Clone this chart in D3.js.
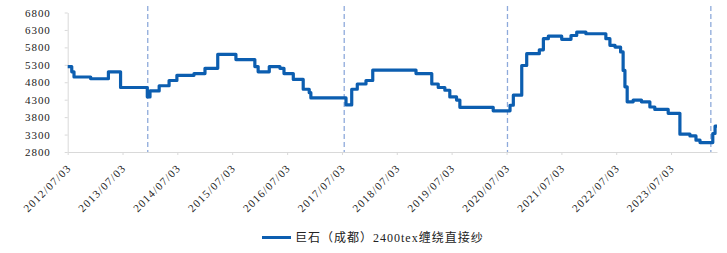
<!DOCTYPE html>
<html>
<head>
<meta charset="utf-8">
<title>巨石（成都）2400tex缠绕直接纱</title>
<script src="https://cdn.jsdelivr.net/npm/d3@7"></script>
<style>
    body { margin: 0; background: #fff; }
    .axis text { font-family: "Liberation Serif", "Times New Roman", serif; fill: #222; }
</style>
</head>
<body>
<div id="chart"></div>
<script>

// price series (yuan/ton), step changes
const dates = [
    "2012-07-03", "2012-07-30", "2012-08-14", "2012-12-03", "2013-03-31", "2013-06-20",
    "2013-12-15", "2014-01-02", "2014-03-04", "2014-05-09", "2014-06-30", "2014-10-22",
    "2015-01-03", "2015-03-29", "2015-07-28", "2015-12-01", "2015-12-23", "2016-03-06",
    "2016-05-16", "2016-06-12", "2016-08-13", "2016-10-18", "2016-11-27", "2016-12-08",
    "2017-07-30", "2017-09-06", "2017-10-13", "2017-12-10", "2018-01-24", "2018-11-08",
    "2019-02-21", "2019-04-05", "2019-05-19", "2019-06-21", "2019-08-05", "2019-08-27",
    "2020-04-05", "2020-07-26", "2020-08-17", "2020-10-12", "2020-11-14", "2021-02-06",
    "2021-03-05", "2021-04-07", "2021-07-05", "2021-09-05", "2021-10-13", "2021-12-13",
    "2022-04-25", "2022-05-22", "2022-06-25", "2022-08-01", "2022-08-18", "2022-08-30",
    "2022-09-14", "2022-10-24", "2022-12-18", "2023-02-12", "2023-03-17", "2023-06-14",
    "2023-08-31", "2023-11-06", "2023-12-16", "2024-01-12", "2024-04-06", "2024-04-21",
    "2024-05-04"
];
const prices = [
    5250, 5100, 4950, 4900, 5100, 4650,
    4380, 4550, 4700, 4850, 5000, 5050,
    5200, 5600, 5450, 5250, 5100, 5250,
    5200, 5050, 4880, 4600, 4500, 4350,
    4150, 4600, 4750, 4850, 5150, 5050,
    4750, 4650, 4570, 4380, 4290, 4080,
    3980, 4140, 4430, 5280, 5620, 5730,
    6050, 6120, 6030, 6140, 6240, 6190,
    6050, 5860, 5810, 5670, 5140, 4670,
    4240, 4290, 4240, 4090, 4020, 3910,
    3310, 3260, 3140, 3070, 3330, 3540,
    3540
];

// dashed markers
const markerDates = ["2013-12-18", "2017-07-18", "2020-07-09", "2024-03-24"];

// axis ticks
const tickLabels = ["2012/07/03", "2013/07/03", "2014/07/03", "2015/07/03", "2016/07/03", "2017/07/03",
    "2018/07/03", "2019/07/03", "2020/07/03", "2021/07/03", "2022/07/03", "2023/07/03"];
const yTicks = [2800, 3300, 3800, 4300, 4800, 5300, 5800, 6300, 6800];

const seriesName = "巨石（成都）2400tex缠绕直接纱";

const width = 727, height = 253;
const parse = d3.timeParse("%Y-%m-%d");
const parseTick = d3.timeParse("%Y/%m/%d");

const data = dates.map((d, i) => ({ date: parse(d), value: prices[i] }));

const svg = d3.select("#chart").append("svg")
    .attr("width", width)
    .attr("height", height);

const x = d3.scaleTime()
    .domain([parse("2012-07-03"), parse("2024-05-04")])
    .range([67.7, 717]);

const y = d3.scaleLinear()
    .domain([2800, 6800])
    .range([152, 12.5]);

// y axis
const yAxis = svg.append("g")
    .attr("class", "axis")
    .attr("transform", "translate(67.7,0)")
    .call(d3.axisLeft(y).tickValues(yTicks).tickSize(3).tickSizeOuter(0).tickFormat(d3.format("d")));
yAxis.select(".domain").attr("stroke", "#d9d9d9");
yAxis.selectAll(".tick line").attr("stroke", "#d9d9d9");
yAxis.selectAll("text")
    .attr("x", -17)
    .attr("font-size", 11)
    .attr("letter-spacing", 0.9);

// x axis
const xAxis = svg.append("g")
    .attr("class", "axis")
    .attr("transform", "translate(0,152)")
    .call(d3.axisBottom(x).tickValues(tickLabels.map(parseTick)).tickSize(3).tickSizeOuter(0)
        .tickFormat(d3.timeFormat("%Y/%m/%d")));
xAxis.select(".domain").attr("stroke", "#d9d9d9");
xAxis.selectAll(".tick line").attr("stroke", "#d9d9d9");
xAxis.selectAll("text")
    .attr("font-size", 11)
    .attr("letter-spacing", 1.2)
    .attr("text-anchor", "end")
    .attr("y", 0)
    .attr("dy", "0.35em")
    .attr("transform", "translate(1,14) rotate(-45)");

// dashed markers
svg.append("g")
    .selectAll("line")
    .data(markerDates)
    .enter()
    .append("line")
    .attr("x1", d => x(parse(d)))
    .attr("x2", d => x(parse(d)))
    .attr("y1", 6)
    .attr("y2", 152)
    .attr("stroke", "#8eaadb")
    .attr("stroke-width", 1.3)
    .attr("stroke-dasharray", "5,3");

// series line
const line = d3.line()
    .x(d => x(d.date))
    .y(d => y(d.value))
    .curve(d3.curveStepAfter);

svg.append("path")
    .datum(data)
    .attr("fill", "none")
    .attr("stroke", "#0c5eb0")
    .attr("stroke-width", 3.2)
    .attr("stroke-linejoin", "round")
    .attr("d", line);

// legend
const legend = svg.append("g").attr("transform", "translate(262,237.5)");
legend.append("line")
    .attr("x1", 0).attr("x2", 29)
    .attr("stroke", "#0c5eb0")
    .attr("stroke-width", 3);
legend.append("text")
    .attr("x", 33)
    .attr("dy", "0.35em")
    .attr("font-size", 12)
    .attr("letter-spacing", 1)
    .attr("fill", "#222")
    .attr("font-family", "'Liberation Serif', 'Noto Sans CJK SC', serif")
    .text(seriesName);

</script>
</body>
</html>
